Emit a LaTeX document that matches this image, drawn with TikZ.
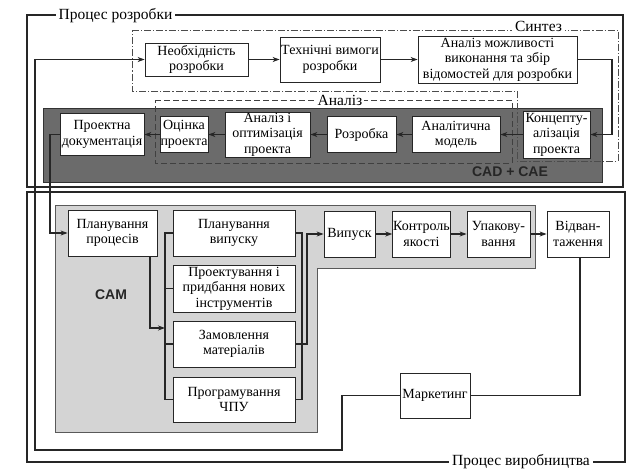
\documentclass[tikz,border=0pt]{standalone}
\usepackage{fontspec}
\setmainfont{Liberation Serif}
\newfontfamily\sansbold{Liberation Sans}
\usetikzlibrary{arrows.meta}
\begin{document}
\begin{tikzpicture}[x=1pt,y=-1pt,
  box/.style 2 args={draw=black!85,line width=0.8pt,fill=white,align=center,inner sep=0.5pt,
    minimum width=#1pt,minimum height=#2pt,font=\fontsize{14}{15.5}\selectfont},
  conn/.style={draw=black!85,line width=1.1pt},
  arr/.style={conn,-{Stealth[length=7pt,width=5pt]}},
  frame/.style={draw=black!85,line width=1.1pt},
  ftitle/.style={fill=white,inner sep=3pt,font=\fontsize{15.5}{17}\selectfont},
  synth/.style={draw=black!70,line width=0.9pt,dash pattern=on 7pt off 2pt on 1.2pt off 2pt},
  anal/.style={draw=black!75,line width=0.9pt,dash pattern=on 6pt off 3pt},
  sanslabel/.style={font=\sansbold\bfseries\fontsize{14}{16}\selectfont}
]
\useasboundingbox (0,0) rectangle (643,474);

% outer frames
\draw[frame] (27,15) rectangle (623,187);
\draw[frame] (27,192) rectangle (625,462);
\node[ftitle] (tdev) at (115.5,16) {Процес розробки};
\node[ftitle] (tprod) at (521,462) {Процес виробництва};

% CAD + CAE band
\fill[black!58] (43,108) rectangle (602,182);
\draw[black!80,line width=0.8pt] (43,108) rectangle (602,182);
\node[sanslabel,text=black!85] (cadcae) at (510,172) {CAD + CAE};

% CAM region
\draw[black!65,line width=0.8pt,fill=black!17] (55,205) -- (535,205) -- (535,268) -- (317,268) -- (317,432) -- (55,432) -- cycle;
\node[sanslabel,text=black!85] (cam) at (111,295) {CAM};

% Synthesis and Analysis borders
\draw[synth] (132,30) -- (618,30) -- (618,161) -- (517,161) -- (517,91) -- (132,91) -- cycle;
\node[ftitle] (tsyn) at (538.5,26) {Синтез};
\draw[anal] (155,100) -- (512,100) -- (512,163) -- (155,163) -- cycle;
\node[ftitle,inner sep=2pt] (tan) at (340,100) {Аналіз};

% top boxes
\node[box={103}{33}] (neo) at (196.5,59.5) {Необхідність\\розробки};
\node[box={100}{45}] (tech) at (330,59.5) {Технічні вимоги\\розробки};
\node[box={159}{47}] (feas) at (497.5,59.5) {Аналіз можливості\\виконання та збір\\відомостей для розробки};
\node[box={67}{47}] (konc) at (556.5,134.5) {Концепту-\\алізація\\проекта};
\node[box={88}{36}] (model) at (456,134.5) {Аналітична\\модель};
\node[box={69}{36}] (rozr) at (361.5,134.5) {Розробка};
\node[box={85}{45}] (opt) at (267.5,134.5) {Аналіз і\\оптимізація\\проекта};
\node[box={48}{36}] (ocin) at (184,134.5) {Оцінка\\проекта};
\node[box={84}{42}] (doc) at (102,134.5) {Проектна\\документація};

% bottom boxes
\node[box={89}{46}] (proc) at (112.5,233) {Планування\\процесів};
\node[box={122}{46}] (vyp) at (234,233) {Планування\\випуску};
\node[box={122}{47}] (instr) at (234,288.5) {Проектування і\\придбання нових\\інструментів};
\node[box={122}{46}] (mat) at (234,344) {Замовлення\\матеріалів};
\node[box={122}{45}] (cnc) at (234,399.5) {Програмування\\ЧПУ};
\node[box={51}{46}] (vypusk) at (349.5,234) {Випуск};
\node[box={57}{46}] (kontr) at (421.5,234) {Контроль\\якості};
\node[box={63}{46}] (upak) at (498.5,234) {Упакову-\\вання};
\node[box={62}{46}] (vidv) at (578,234) {Відван-\\таження};
\node[box={70}{45}] (mark) at (435,395.5) {Маркетинг};

% connectors: top
\draw[arr] (neo) -- (tech);
\draw[arr] (tech) -- (feas);
\coordinate (fr1) at (612,59.5);
\coordinate (fr2) at (612,134.5);
\draw[arr] (feas.east) -- (fr1) -- (fr2) -- (konc.east);
\draw[arr] (konc) -- (model);
\draw[arr] (model) -- (rozr);
\draw[arr] (rozr) -- (opt);
\draw[arr] (opt) -- (ocin);
\draw[arr] (ocin) -- (doc);
\coordinate (dl1) at (50,134.5);
\coordinate (dl2) at (50,233);
\draw[arr] (doc.west) -- (dl1) -- (dl2) -- (proc.west);

% CAM internal
\coordinate (pb1) at (150,256);
\coordinate (pb2) at (150,328);
\coordinate (lb0) at (165,328);
\draw[arr] (pb1) -- (pb2) -- (lb0);
\coordinate (lbt) at (165,233);
\coordinate (lbb) at (165,399.5);
\draw[conn] (vyp.west) -- (lbt) -- (lbb) -- (cnc.west);
\coordinate (lbi) at (165,288.5);
\coordinate (lbm) at (165,344);
\draw[conn] (lbi) -- (instr.west);
\draw[conn] (lbm) -- (mat.west);
\coordinate (rb1) at (302,233);
\coordinate (rb2) at (302,399.5);
\draw[conn] (vyp.east) -- (rb1) -- (rb2) -- (cnc.east);
\coordinate (rc1) at (307,344);
\coordinate (rc2) at (307,234);
\draw[arr] (mat.east) -- (rc1) -- (rc2) -- (vypusk.west);
\draw[arr] (vypusk) -- (kontr);
\draw[arr] (kontr) -- (upak);
\draw[arr] (upak) -- (vidv);

% return loop
\coordinate (vd1) at (580,395.5);
\draw[conn] (vidv.south -| vd1) -- (vd1) -- (mark.east);
\coordinate (ml1) at (342,395.5);
\coordinate (ml2) at (342,450);
\coordinate (ml3) at (35,450);
\coordinate (ml4) at (35,59.5);
\draw[arr] (mark.west) -- (ml1) -- (ml2) -- (ml3) -- (ml4) -- (neo.west);
\end{tikzpicture}
\end{document}
